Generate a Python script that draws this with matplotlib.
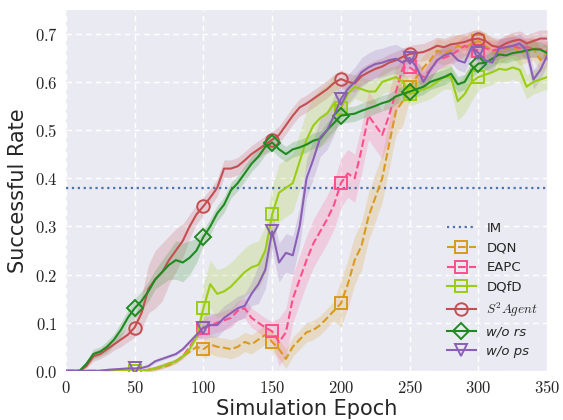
import numpy as np
import matplotlib
matplotlib.use("Agg")
import matplotlib.pyplot as plt
from matplotlib.ticker import FuncFormatter, MultipleLocator

epochs = list(range(0, 351, 5))

im_level = 0.38

dqn = [0, 0, 0, 0, 0, 0, 0, 0, 0, 0, 0, 0, 0.002, 0.005, 0.008, 0.012, 0.02, 0.03, 0.04, 0.05,
       0.045, 0.055, 0.05, 0.048, 0.045, 0.05, 0.06, 0.055, 0.065, 0.075, 0.06, 0.045, 0.025, 0.05,
       0.065, 0.08, 0.085, 0.095, 0.11, 0.125, 0.14, 0.18, 0.23, 0.26, 0.32, 0.36, 0.40, 0.47, 0.54,
       0.56, 0.59, 0.61, 0.63, 0.645, 0.665, 0.66, 0.665, 0.675, 0.67, 0.68, 0.685, 0.675, 0.665,
       0.66, 0.67, 0.675, 0.66, 0.665, 0.67, 0.645, 0.66]
eapc = [0, 0, 0, 0, 0, 0, 0, 0, 0, 0, 0, 0, 0.002, 0.005, 0.01, 0.015, 0.02, 0.03, 0.05, 0.07,
        0.088, 0.095, 0.10, 0.105, 0.11, 0.125, 0.13, 0.11, 0.10, 0.09, 0.082, 0.06, 0.08, 0.15,
        0.19, 0.23, 0.265, 0.29, 0.315, 0.345, 0.39, 0.41, 0.40, 0.46, 0.53, 0.51, 0.49, 0.53, 0.58,
        0.63, 0.63, 0.62, 0.61, 0.625, 0.645, 0.65, 0.655, 0.665, 0.675, 0.67, 0.665, 0.67, 0.665,
        0.668, 0.672, 0.675, 0.67, 0.672, 0.67, 0.668, 0.665]
dqfd = [0, 0, 0, 0, 0, 0, 0, 0, 0, 0, 0, 0, 0.002, 0.005, 0.01, 0.015, 0.02, 0.03, 0.045, 0.07,
        0.13, 0.18, 0.16, 0.165, 0.175, 0.19, 0.205, 0.215, 0.22, 0.25, 0.325, 0.37, 0.38, 0.39,
        0.435, 0.48, 0.51, 0.525, 0.535, 0.555, 0.545, 0.575, 0.59, 0.585, 0.58, 0.58, 0.60, 0.605,
        0.61, 0.60, 0.575, 0.58, 0.585, 0.59, 0.60, 0.61, 0.61, 0.56, 0.575, 0.60, 0.61, 0.615, 0.62,
        0.627, 0.625, 0.63, 0.625, 0.59, 0.60, 0.605, 0.61]
s2agent = [0, 0, 0, 0.01, 0.03, 0.035, 0.045, 0.055, 0.065, 0.075, 0.09, 0.12, 0.17, 0.19, 0.205,
           0.23, 0.25, 0.27, 0.30, 0.325, 0.342, 0.36, 0.38, 0.42, 0.42, 0.425, 0.437, 0.45, 0.46,
           0.47, 0.48, 0.49, 0.51, 0.53, 0.547, 0.555, 0.565, 0.575, 0.585, 0.598, 0.606, 0.60,
           0.597, 0.612, 0.62, 0.627, 0.632, 0.64, 0.645, 0.652, 0.658, 0.66, 0.662, 0.668, 0.675,
           0.672, 0.678, 0.68, 0.683, 0.688, 0.69, 0.685, 0.675, 0.672, 0.68, 0.685, 0.688, 0.68,
           0.685, 0.69, 0.69]
wo_rs = [0, 0, 0, 0.015, 0.035, 0.04, 0.05, 0.065, 0.085, 0.11, 0.13, 0.145, 0.165, 0.19, 0.205,
         0.22, 0.23, 0.225, 0.235, 0.25, 0.278, 0.30, 0.327, 0.345, 0.375, 0.39, 0.41, 0.43, 0.445,
         0.465, 0.474, 0.46, 0.45, 0.46, 0.464, 0.47, 0.478, 0.482, 0.50, 0.515, 0.53, 0.532, 0.534,
         0.54, 0.545, 0.55, 0.556, 0.56, 0.57, 0.575, 0.58, 0.585, 0.59, 0.60, 0.605, 0.61, 0.617,
         0.595, 0.60, 0.625, 0.638, 0.64, 0.648, 0.657, 0.655, 0.66, 0.662, 0.665, 0.668, 0.667, 0.66]
wo_ps = [0, 0, 0, 0, 0, 0, 0.002, 0.003, 0.004, 0.005, 0.005, 0.006, 0.01, 0.02, 0.025, 0.03,
         0.035, 0.045, 0.06, 0.075, 0.09, 0.095, 0.095, 0.11, 0.12, 0.13, 0.135, 0.16, 0.18, 0.21,
         0.29, 0.225, 0.245, 0.24, 0.30, 0.40, 0.44, 0.485, 0.50, 0.53, 0.565, 0.585, 0.60, 0.62,
         0.63, 0.637, 0.64, 0.645, 0.648, 0.64, 0.65, 0.63, 0.60, 0.625, 0.645, 0.655, 0.66, 0.645,
         0.64, 0.672, 0.66, 0.645, 0.64, 0.67, 0.672, 0.675, 0.68, 0.665, 0.605, 0.625, 0.655]

# half-widths of the shaded bands
dqn_band = [0] * 12 + [0.003] * 8 + [0.02] * 13 + [0.02] * 7 + [0.05] * 10 + [0.025] * 21
eapc_band = [0] * 12 + [0.005] * 8 + [0.02] * 11 + [0.05] * 18 + [0.02] * 22
dqfd_band = [0] * 12 + [0.005] * 8 + [0.05] * 10 + [0.06] * 10 + [0.025] * 17 + [0.04] * 3 + [0.025] * 11
s2_band = [0, 0, 0, 0.005, 0.01, 0.01, 0.012, 0.012, 0.015, 0.015, 0.02, 0.035, 0.05, 0.06, 0.06,
           0.05, 0.045, 0.035, 0.025, 0.02] + [0.018] * 51
rs_band = [0, 0, 0, 0.005, 0.01, 0.01, 0.012, 0.012, 0.015, 0.015, 0.02, 0.02, 0.02, 0.02, 0.025,
           0.03, 0.04, 0.04, 0.035, 0.025] + [0.016] * 51
ps_band = [0] * 6 + [0.003] * 14 + [0.025] * 8 + [0.04] * 12 + [0.03] * 10 + [0.02] * 21

names = ["DQN", "EAPC", "DQfD", r"$S^2Agent$", "w/o rs", "w/o ps"]
series = [dqn, eapc, dqfd, s2agent, wo_rs, wo_ps]
bands = [dqn_band, eapc_band, dqfd_band, s2_band, rs_band, ps_band]
colors = ["#d99a1e", "#ff4f8b", "#9acd12", "#c44e52", "#1f8a1f", "#8a5fb5"]
markers = ["s", "s", "s", "o", "D", "v"]
styles = ["--", "--", "-", "-", "-", "-"]

plt.rcParams["mathtext.fontset"] = "cm"
fig = plt.figure(figsize=(5.63, 4.20), dpi=100)
ax = fig.add_axes([0.117, 0.117, 0.855, 0.86])
ax.set_facecolor("#eaeaf2")
for s in ax.spines.values():
    s.set_visible(False)

x = np.array(epochs)
ax.axhline(im_level, color="#4c72b0", linestyle=":", linewidth=1.6, label="IM", zorder=3)
for name, y, b, c, m, ls in zip(names, series, bands, colors, markers, styles):
    y = np.array(y)
    b = np.array(b)
    ax.fill_between(x, y - b, y + b, color=c, alpha=0.2, linewidth=0, zorder=2)
    ms = 9 if m != "D" else 8
    ax.plot(x, y, linestyle=ls, color=c, linewidth=1.5, marker=m, markersize=ms,
            markerfacecolor="none", markeredgewidth=1.4, markeredgecolor=c,
            markevery=list(range(10, 61, 10)), label=name, zorder=4)

ax.set_xlim(0, 350)
ax.set_ylim(0, 0.75)
ax.xaxis.set_major_locator(MultipleLocator(50))
ax.yaxis.set_major_locator(MultipleLocator(0.1))
ax.xaxis.set_major_formatter(FuncFormatter(lambda v, p: r"$%d$" % v))
ax.yaxis.set_major_formatter(FuncFormatter(lambda v, p: r"$%.1f$" % v))
ax.tick_params(axis="both", length=0, labelsize=12, pad=6, colors="#262626")
ax.grid(True, color="white", linestyle="--", linewidth=1.0, dashes=(4, 3))
ax.set_axisbelow(True)
ax.set_xlabel("Simulation Epoch", fontsize=15, color="#262626", labelpad=1)
ax.set_ylabel("Successful Rate", fontsize=15, color="#262626", labelpad=5)

leg = ax.legend(loc="lower right", frameon=False, fontsize=9.5, handlelength=2.2,
                labelspacing=0.5, borderaxespad=0.3, bbox_to_anchor=(1.0, 0.01))
for t in leg.get_texts():
    if t.get_text() in ("w/o rs", "w/o ps"):
        t.set_style("italic")
    t.set_color("#262626")

fig.savefig("out.png", dpi=100)
